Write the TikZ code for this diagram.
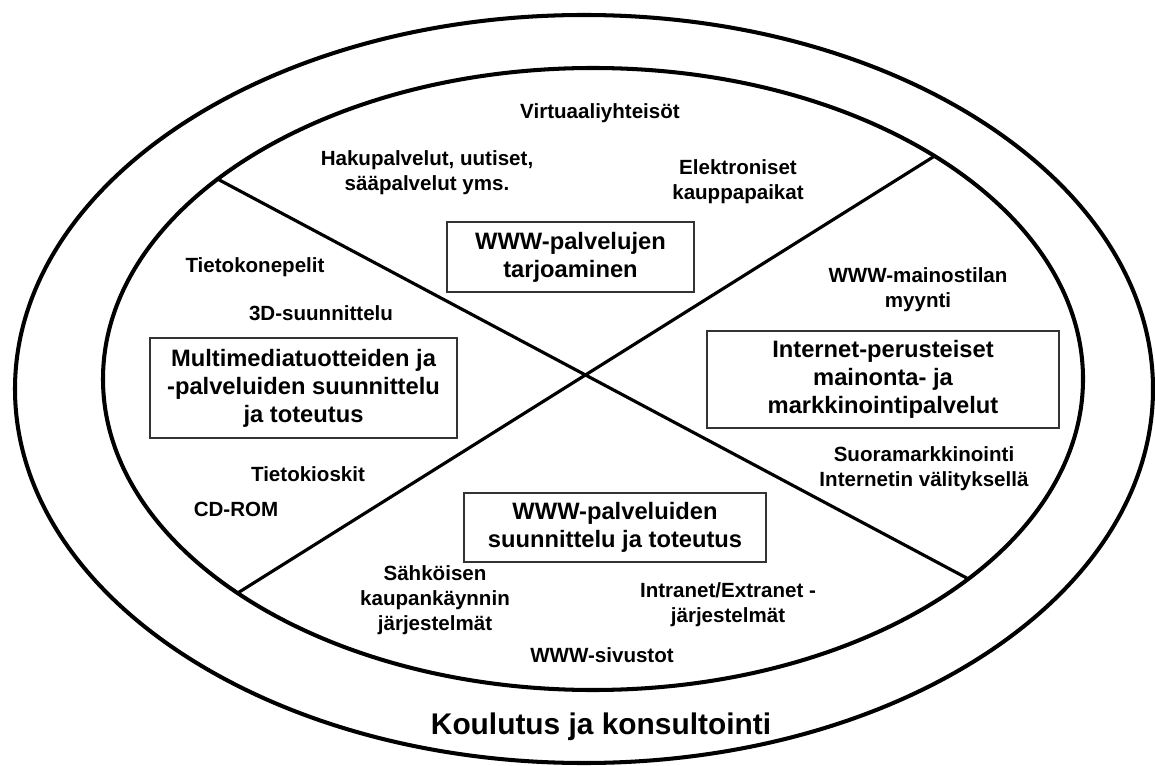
\documentclass[tikz,border=0pt]{standalone}
\usepackage{fontspec}
\setmainfont{Liberation Sans}
\usetikzlibrary{positioning,calc}

\begin{document}
\begin{tikzpicture}[x=0.02cm, y=-0.02cm, semithick]
        \tikzstyle{box}=[draw=black!80, line width=0.8pt, align=center, inner sep=0pt, font=\fontsize{13.5}{15.9}\selectfont\bfseries]
        \tikzstyle{lbl}=[align=center, inner sep=0pt, font=\fontsize{11.7}{14.2}\selectfont\bfseries]
        \useasboundingbox (0,0) rectangle (1155,766);

        % rings
        \draw[line width=2.3pt] (584,389) ellipse [x radius=569, y radius=374];
        \draw[line width=2.3pt] (593,379) ellipse [x radius=490, y radius=311];

        % cross
        \path (593,379) ++(220:490 and 311) coordinate (UL);
        \path (593,379) ++(40:490 and 311) coordinate (LR);
        \path (593,379) ++(136.5:490 and 311) coordinate (LL);
        \path (593,379) ++(314.2:490 and 311) coordinate (UR);
        \draw[line width=1.8pt] (UL) -- (LR);
        \draw[line width=1.8pt] (LL) -- (UR);

        % sector titles
        \node[box, minimum width=4.94cm, minimum height=1.4cm]  (Tarjoaminen) at (570.5,257) {WWW-palvelujen\\tarjoaminen};
        \node[box, minimum width=6.14cm, minimum height=2.0cm]  (Multimedia)  at (303.5,388) {Multimediatuotteiden ja\\-palveluiden suunnittelu\\ja toteutus};
        \node[box, minimum width=7.04cm, minimum height=1.94cm] (Mainonta)    at (883,379.5) {Internet-perusteiset\\mainonta- ja\\markkinointipalvelut};
        \node[box, minimum width=6.04cm, minimum height=1.38cm] (Suunnittelu) at (615,527.5) {WWW-palveluiden\\suunnittelu ja toteutus};

        % items
        \node[lbl] (Virtuaali) at (600,113) {Virtuaaliyhteisöt};
        \node[lbl] (Haku)      at (427,173) {Hakupalvelut, uutiset,\\sääpalvelut yms.};
        \node[lbl] (Kauppa)    at (738,182) {Elektroniset\\kauppapaikat};
        \node[lbl] (Pelit)     at (255,267) {Tietokonepelit};
        \node[lbl] (Kolmed)    at (321,313) {3D-suunnittelu};
        \node[lbl] (Kioskit)   at (308,474) {Tietokioskit};
        \node[lbl] (Cdrom)     at (236,509) {CD-ROM};
        \node[lbl] (Mainos)    at (918,290) {WWW-mainostilan\\myynti};
        \node[lbl] (Suora)     at (924,469) {Suoramarkkinointi\\Internetin välityksellä};
        \node[lbl] (Sahko)     at (435,600) {Sähköisen\\kaupankäynnin\\järjestelmät};
        \node[lbl] (Intranet)  at (728,605) {Intranet/Extranet -\\järjestelmät};
        \node[lbl] (Sivustot)  at (602,655) {WWW-sivustot};

        \node[font=\fontsize{17}{20}\selectfont\bfseries, inner sep=0pt] (Koulutus) at (601,727) {Koulutus ja konsultointi};
\end{tikzpicture}
\end{document}
